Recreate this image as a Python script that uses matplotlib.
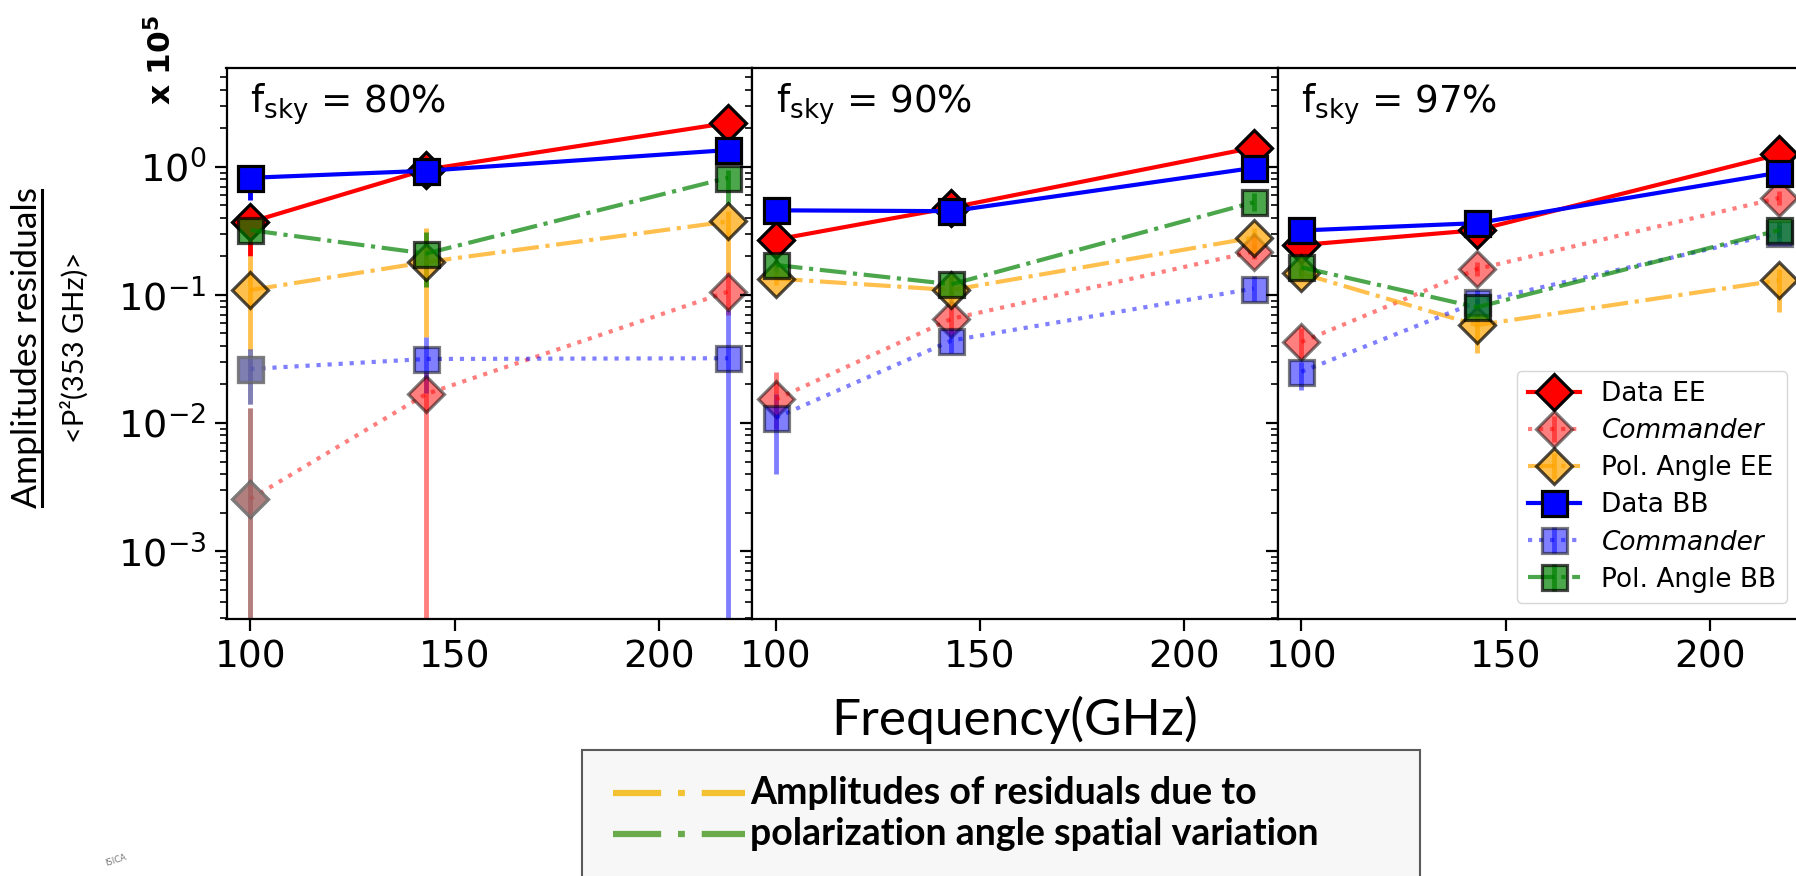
import numpy as np
import matplotlib.pyplot as plt
from matplotlib.lines import Line2D
from matplotlib.patches import Rectangle

freq = [100, 143, 217]
fsky = ['80%', '90%', '97%']

# one row per panel: f_sky = 80%, 90%, 97%  (values in units of 1e-5)
data_ee = [[0.37, 0.95, 2.2], [0.27, 0.48, 1.41], [0.245, 0.32, 1.25]]
data_ee_lo = [[0.2, 0.8, 1.95], [0.24, 0.43, 1.3], [0.22, 0.29, 1.15]]
data_ee_hi = [[0.45, 1.1, 2.45], [0.3, 0.55, 1.55], [0.27, 0.36, 1.35]]

comm_ee = [[0.00255, 0.0168, 0.106], [0.0153, 0.065, 0.218], [0.0428, 0.159, 0.571]]
comm_ee_lo = [[1e-6, 1e-6, 0.07], [0.009, 0.05, 0.19], [0.032, 0.14, 0.5]]
comm_ee_hi = [[0.013, 0.025, 0.15], [0.025, 0.085, 0.25], [0.055, 0.18, 0.65]]

pol_ee = [[0.109, 0.18, 0.374], [0.134, 0.109, 0.28], [0.147, 0.058, 0.13]]
pol_ee_lo = [[0.037, 0.047, 0.147], [0.12, 0.09, 0.22], [0.13, 0.035, 0.073]]
pol_ee_hi = [[0.2, 0.33, 0.45], [0.15, 0.14, 0.33], [0.165, 0.07, 0.16]]

data_bb = [[0.82, 0.93, 1.35], [0.457, 0.45, 0.98], [0.318, 0.363, 0.9]]
data_bb_lo = [[0.55, 0.85, 1.2], [0.42, 0.41, 0.9], [0.29, 0.33, 0.85]]
data_bb_hi = [[0.95, 1.0, 1.5], [0.49, 0.5, 1.05], [0.35, 0.4, 0.97]]

comm_bb = [[0.0264, 0.0316, 0.032], [0.011, 0.044, 0.112], [0.0251, 0.088, 0.303]]
comm_bb_lo = [[0.014, 0.017, 1e-6], [0.004, 0.035, 0.09], [0.018, 0.07, 0.26]]
comm_bb_hi = [[0.038, 0.047, 0.076], [0.0168, 0.055, 0.14], [0.03, 0.11, 0.35]]

pol_bb = [[0.32, 0.21, 0.82], [0.171, 0.121, 0.528], [0.164, 0.08, 0.32]]
pol_bb_lo = [[0.28, 0.116, 0.5], [0.15, 0.1, 0.45], [0.14, 0.068, 0.28]]
pol_bb_hi = [[0.36, 0.31, 0.95], [0.19, 0.14, 0.62], [0.19, 0.095, 0.37]]

# Commander points shown in grey (panel, frequency index)
grey_pts = [(0, 0)]

series = [
    ('Data EE', data_ee, data_ee_lo, data_ee_hi,
     dict(fmt='D-', color='red', mec='k', alpha=1.0)),
    ('Commander', comm_ee, comm_ee_lo, comm_ee_hi,
     dict(fmt='D:', color='red', mec='k', alpha=0.5)),
    ('Pol. Angle EE', pol_ee, pol_ee_lo, pol_ee_hi,
     dict(fmt='D-.', color='orange', mec='k', alpha=0.7)),
    ('Data BB', data_bb, data_bb_lo, data_bb_hi,
     dict(fmt='s-', color='blue', mec='k', alpha=1.0)),
    ('Commander', comm_bb, comm_bb_lo, comm_bb_hi,
     dict(fmt='s:', color='blue', mec='k', alpha=0.5)),
    ('Pol. Angle BB', pol_bb, pol_bb_lo, pol_bb_hi,
     dict(fmt='s-.', color='green', mec='k', alpha=0.7)),
]

plt.rcParams['xtick.labelsize'] = 27
plt.rcParams['ytick.labelsize'] = 27.5

W, H = 1796, 876
fig = plt.figure(figsize=(W / 100, H / 100), dpi=100)

left, bot, pw, ph = 226.5 / W, 1 - 619 / H, 525.5 / W, 551 / H
axes = []
for k in range(3):
    ax = fig.add_axes([left + k * pw, bot, pw, ph],
                      sharey=axes[0] if axes else None)
    axes.append(ax)

for k, ax in enumerate(axes):
    for name, vals, lo, hi, st in series:
        v = np.array(vals[k])
        yerr = [v - np.array(lo[k]), np.array(hi[k]) - v]
        ax.errorbar(freq, v, yerr=yerr, fmt=st['fmt'], color=st['color'],
                    mec=st['mec'], alpha=st['alpha'], ms=18, mew=2.3,
                    lw=3, elinewidth=3.5, label=name)
        if st['fmt'] in ('D:', 's:'):
            for (p, i) in grey_pts:
                if p == k:
                    ax.errorbar([freq[i]], [v[i]], yerr=[[yerr[0][i]], [yerr[1][i]]],
                                fmt=st['fmt'][0], color='grey', mec='grey',
                                alpha=0.6, ms=18, mew=2.3, elinewidth=3.5)
    ax.set_yscale('log')
    ax.set_ylim(2.95e-4, 5.9)
    ax.set_xticks([100, 150, 200])
    ax.tick_params(which='major', length=8.6, width=1.6, pad=6)
    ax.tick_params(which='minor', length=5, width=1.2)
    for s in ax.spines.values():
        s.set_linewidth(1.6)
    ax.text(0.045, 0.975, r'$\mathrm{f_{sky}}$ = ' + fsky[k], transform=ax.transAxes,
            fontsize=26.8, va='top', ha='left')
    if k > 0:
        ax.tick_params(labelleft=False)

leg = axes[2].legend(loc='lower right', fontsize=19, handlelength=2.0,
                     borderaxespad=0.6, labelspacing=0.42)
for i, t in enumerate(leg.get_texts()):
    if t.get_text() == 'Commander':
        t.set_fontstyle('italic')

fig.text(1015 / W, 1 - 720 / H, 'Frequency(GHz)', family='Lato', fontsize=37,
         ha='center', va='center')

# y-axis label as a fraction
fig.text(27 / W, 1 - 348 / H, 'Amplitudes residuals', family='Lato', fontsize=25.5,
         rotation=90, ha='center', va='center')
fig.add_artist(Line2D([42 / W, 42 / W], [1 - 506 / H, 1 - 190 / H], color='k', lw=2.2))
fig.text(75 / W, 1 - 347 / H, '<P²(353 GHz)>', family='Lato', fontsize=21,
         rotation=90, ha='center', va='center')
fig.text(161 / W, 1 - 60 / H, r'$\mathbf{x\ 10^5}$', fontsize=22.5, rotation=90,
         ha='center', va='center')

# box with the line-style note
fig.add_artist(Rectangle((582 / W, -0.02), (1420 - 582) / W, (876 - 750) / H + 0.02,
                         transform=fig.transFigure, facecolor='#f7f7f7',
                         edgecolor='#5a5a5a', lw=1.5))
note = [('#f2c232', 'Amplitudes of residuals due to', 793),
        ('#6aaa4a', 'polarization angle spatial variation', 834)]
for col, txt, yp in note:
    fig.add_artist(Line2D([613 / W, 745 / W], [1 - yp / H, 1 - yp / H], color=col,
                          lw=4.5, dashes=(7.7, 2.7, 1.1, 2.7), dash_capstyle='butt'))
    fig.text(750 / W, 1 - yp / H, txt, family='Lato', fontweight='bold', fontsize=27,
             ha='left', va='center')

fig.text(0.058, 0.012, 'ISICA', fontsize=6, color='#777777', rotation=18)

fig.savefig('out.png', dpi=100)
